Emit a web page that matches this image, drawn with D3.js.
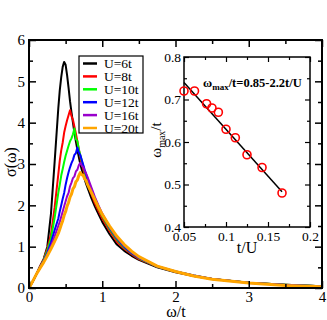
<!DOCTYPE html>
<meta charset="utf-8">
<style>
body { margin: 0; background: #fff; }
svg text { font-family: "Liberation Serif", "DejaVu Serif", serif; fill: #000; }
.tick line { stroke: #000; }
</style>
<svg width="327" height="320"></svg>
<script src="https://cdn.jsdelivr.net/npm/d3@7"></script>
<script>

// omega/t grid shared by all curves
var omega = [0, 0.05, 0.1, 0.15, 0.2, 0.25, 0.3, 0.35, 0.4,
  0.42, 0.44, 0.46, 0.48, 0.5, 0.52, 0.54, 0.56, 0.58, 0.6, 0.62, 0.64, 0.66, 0.68, 0.7,
  0.72, 0.74, 0.76, 0.78, 0.8, 0.85, 0.9, 0.95, 1.0, 1.1, 1.2, 1.3, 1.4, 1.5,
  1.75, 2.0, 2.25, 2.5, 3.0, 3.5, 4.0];

var labels = ["U=6t", "U=8t", "U=10t", "U=12t", "U=16t", "U=20t"];
var colors = ["#000000", "#ff0000", "#00ff00", "#0000ff", "#9900cc", "#ffa500"];

var sigU6 = [0, 0.15, 0.33, 0.52, 0.7, 1.0, 1.8, 3.05, 4.35,
  4.78, 5.1, 5.35, 5.47, 5.4, 5.15, 4.85, 4.52, 4.25, 4.0, 3.76, 3.55, 3.35, 3.17, 3.0,
  2.87, 2.75, 2.63, 2.52, 2.42, 2.18, 1.97, 1.78, 1.6, 1.3, 1.05, 0.9, 0.78, 0.68,
  0.5, 0.38, 0.29, 0.22, 0.13, 0.08, 0.04];
var sigU8 = [0, 0.16, 0.33, 0.52, 0.7, 0.95, 1.3, 1.95, 2.75,
  3.08, 3.33, 3.52, 3.76, 3.92, 4.06, 4.18, 4.3, 4.16, 4.07, 3.9, 3.74, 3.55, 3.36, 3.18,
  3.02, 2.88, 2.75, 2.63, 2.52, 2.28, 2.05, 1.86, 1.68, 1.38, 1.12, 0.95, 0.82, 0.7,
  0.52, 0.39, 0.29, 0.22, 0.13, 0.08, 0.04];
var sigU10 = [0, 0.16, 0.33, 0.5, 0.68, 0.9, 1.2, 1.7, 2.3,
  2.5, 2.72, 2.88, 3.05, 3.2, 3.32, 3.44, 3.55, 3.62, 3.72, 3.86, 3.6, 3.56, 3.35, 3.22,
  3.08, 2.95, 2.82, 2.7, 2.6, 2.35, 2.12, 1.92, 1.74, 1.43, 1.17, 0.98, 0.84, 0.72,
  0.52, 0.4, 0.3, 0.22, 0.13, 0.08, 0.04];
var sigU12 = [0, 0.16, 0.33, 0.5, 0.66, 0.85, 1.1, 1.4, 1.68,
  1.85, 2.0, 2.16, 2.3, 2.5, 2.66, 2.8, 2.92, 3.02, 3.1, 3.22, 3.26, 3.4, 3.28, 3.22,
  3.1, 2.98, 2.86, 2.75, 2.64, 2.4, 2.17, 1.96, 1.78, 1.46, 1.2, 1.0, 0.85, 0.73,
  0.52, 0.4, 0.3, 0.22, 0.13, 0.07, 0.04];
var sigU16 = [0, 0.16, 0.33, 0.48, 0.64, 0.82, 1.02, 1.25, 1.5,
  1.6, 1.72, 1.85, 1.98, 2.1, 2.22, 2.3, 2.46, 2.55, 2.66, 2.7, 2.82, 2.86, 2.97, 3.03,
  2.96, 2.93, 2.84, 2.77, 2.68, 2.44, 2.2, 1.99, 1.8, 1.48, 1.22, 1.02, 0.87, 0.74,
  0.53, 0.4, 0.3, 0.22, 0.12, 0.07, 0.03];
var sigU20 = [0, 0.16, 0.33, 0.48, 0.62, 0.78, 0.95, 1.13, 1.32,
  1.42, 1.53, 1.63, 1.76, 1.85, 1.98, 2.07, 2.2, 2.27, 2.4, 2.45, 2.57, 2.61, 2.72, 2.79,
  2.74, 2.73, 2.64, 2.6, 2.5, 2.32, 2.13, 1.95, 1.78, 1.5, 1.25, 1.05, 0.89, 0.76,
  0.53, 0.4, 0.29, 0.21, 0.12, 0.06, 0.03];

var series = [sigU6, sigU8, sigU10, sigU12, sigU16, sigU20];

// inset: peak position vs t/U
var tOverU = [0.05, 0.0625, 0.0769, 0.0833, 0.0909, 0.1, 0.1111, 0.125, 0.1429, 0.1667];
var wMax = [0.72, 0.72, 0.69, 0.68, 0.67, 0.63, 0.61, 0.57, 0.54, 0.48];
var fitX = [0.05, 0.1667];
var fitY = [0.74, 0.483];

var serif = '"Liberation Serif", "DejaVu Serif", serif';
var svg = d3.select("svg");

var x = d3.scaleLinear().domain([0, 4]).range([29, 322]);
var y = d3.scaleLinear().domain([0, 6]).range([288, 40]);

function frameAxes(g, xs, ys, xMaj, xMin, yMaj, yMin, big, small, fmtX, fmtY, pad) {
  var x0 = xs.range()[0], x1 = xs.range()[1], y0 = ys.range()[0], y1 = ys.range()[1];
  g.append("g").attr("transform", "translate(0," + y0 + ")")
    .call(d3.axisBottom(xs).tickValues(xMaj).tickSize(-big).tickPadding(pad[0]).tickFormat(fmtX));
  g.append("g").attr("transform", "translate(0," + y0 + ")")
    .call(d3.axisBottom(xs).tickValues(xMin).tickSize(-small).tickFormat(""));
  g.append("g").attr("transform", "translate(0," + y1 + ")")
    .call(d3.axisTop(xs).tickValues(xMaj).tickSize(-big).tickFormat(""));
  g.append("g").attr("transform", "translate(0," + y1 + ")")
    .call(d3.axisTop(xs).tickValues(xMin).tickSize(-small).tickFormat(""));
  g.append("g").attr("transform", "translate(" + x0 + ",0)")
    .call(d3.axisLeft(ys).tickValues(yMaj).tickSize(-big).tickPadding(pad[1]).tickFormat(fmtY));
  g.append("g").attr("transform", "translate(" + x0 + ",0)")
    .call(d3.axisLeft(ys).tickValues(yMin).tickSize(-small).tickFormat(""));
  g.append("g").attr("transform", "translate(" + x1 + ",0)")
    .call(d3.axisRight(ys).tickValues(yMaj).tickSize(-big).tickFormat(""));
  g.append("g").attr("transform", "translate(" + x1 + ",0)")
    .call(d3.axisRight(ys).tickValues(yMin).tickSize(-small).tickFormat(""));
  g.selectAll(".domain").remove();
  g.selectAll("g").attr("font-family", serif);
  g.append("rect")
    .attr("x", x0).attr("y", y1)
    .attr("width", x1 - x0).attr("height", y0 - y1)
    .attr("fill", "none").attr("stroke", "#000");
}

// main curves
var line = d3.line()
  .x(function(d, i) { return x(omega[i]); })
  .y(function(d) { return y(d); });

svg.append("g")
  .selectAll("path")
  .data(series)
  .enter().append("path")
    .attr("d", line)
    .attr("fill", "none")
    .attr("stroke", function(d, i) { return colors[i]; })
    .attr("stroke-width", function(d, i) { return i == 5 ? 3 : 2; })
    .attr("stroke-linejoin", "round");

var main = svg.append("g").attr("class", "main");
frameAxes(main, x, y, [0, 1, 2, 3, 4], [0.5, 1.5, 2.5, 3.5],
  [0, 1, 2, 3, 4, 5, 6], [0.5, 1.5, 2.5, 3.5, 4.5, 5.5], 7, 4,
  d3.format("d"), d3.format("d"), [3, 4]);
main.selectAll("text").style("font-size", "15px");
main.selectAll(".tick line").attr("stroke-width", 1.5);
main.select("rect").attr("stroke-width", 2);

svg.append("text")
  .attr("x", 176).attr("y", 317)
  .attr("text-anchor", "middle")
  .style("font-size", "16px")
  .text("ω/t");

svg.append("text")
  .attr("transform", "translate(16,162) rotate(-90)")
  .attr("text-anchor", "middle")
  .style("font-size", "16px")
  .text("σ(ω)");

// legend
var leg = svg.append("g");
leg.append("rect")
  .attr("x", 79).attr("y", 56).attr("width", 64).attr("height", 77)
  .attr("fill", "#fff").attr("stroke", "#000").attr("stroke-width", 1.2);
var row = leg.selectAll("g.row")
  .data(labels)
  .enter().append("g")
    .attr("class", "row")
    .attr("transform", function(d, i) { return "translate(0," + (63.5 + i * 12.9) + ")"; });
row.append("line")
  .attr("x1", 83).attr("x2", 97)
  .attr("stroke", function(d, i) { return colors[i]; })
  .attr("stroke-width", 2.5);
row.append("text")
  .attr("x", 104).attr("dy", "0.35em")
  .style("font-size", "13.5px")
  .text(function(d) { return d; });

// inset
var xi = d3.scaleLinear().domain([0.05, 0.2]).range([184, 310]);
var yi = d3.scaleLinear().domain([0.4, 0.8]).range([227, 57]);

var inset = svg.append("g").attr("class", "inset");
frameAxes(inset, xi, yi, [0.05, 0.1, 0.15, 0.2], [0.075, 0.125, 0.175],
  [0.4, 0.5, 0.6, 0.7, 0.8], [0.45, 0.55, 0.65, 0.75], 5, 3,
  function(d) { return String(+d.toFixed(2)); }, d3.format(".1f"), [4, 3]);
inset.selectAll("text").style("font-size", "13.5px");
inset.selectAll(".tick line").attr("stroke-width", 1.2);
inset.select("rect").attr("stroke-width", 1.5);

inset.append("line")
  .attr("x1", xi(fitX[0])).attr("y1", yi(fitY[0]))
  .attr("x2", xi(fitX[1])).attr("y2", yi(fitY[1]))
  .attr("stroke", "#000").attr("stroke-width", 1.5);

inset.selectAll("circle")
  .data(wMax)
  .enter().append("circle")
    .attr("cx", function(d, i) { return xi(tOverU[i]); })
    .attr("cy", function(d) { return yi(d); })
    .attr("r", 4)
    .attr("fill", "none")
    .attr("stroke", "#ff0000")
    .attr("stroke-width", 1.6);

inset.append("text")
  .attr("x", 247).attr("y", 253)
  .attr("text-anchor", "middle")
  .style("font-size", "16px")
  .text("t/U");

var yl = inset.append("text")
  .attr("transform", "translate(161,140) rotate(-90)")
  .attr("text-anchor", "middle")
  .style("font-size", "15px");
yl.append("tspan").text("ω");
yl.append("tspan").attr("dy", 4).style("font-size", "10px").text("max");
yl.append("tspan").attr("dy", -4).text("/t");

var fl = inset.append("text")
  .attr("x", 203).attr("y", 87)
  .style("font-size", "12.5px")
  .style("font-weight", "bold");
fl.append("tspan").text("ω");
fl.append("tspan").attr("dy", 3).style("font-size", "9px").text("max");
fl.append("tspan").attr("dy", -3).text("/t=0.85-2.2t/U");

svg.selectAll("text").style("font-family", serif);

</script>
